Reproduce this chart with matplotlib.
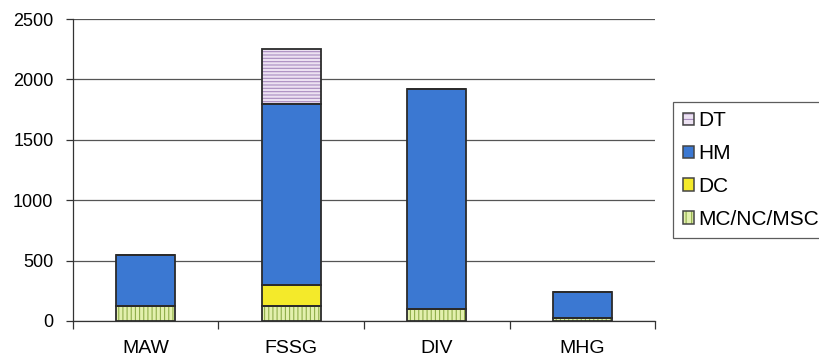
import matplotlib.pyplot as plt
import numpy as np
from matplotlib.legend_handler import HandlerTuple
from matplotlib.patches import Patch

plt.rcParams['font.family'] = ['Liberation Sans', 'DejaVu Sans']
plt.rcParams['hatch.linewidth'] = 0.8

units = ['MAW', 'FSSG', 'DIV', 'MHG']
mc_nc_msc = [120, 120, 100, 25]
dc = [0, 180, 0, 0]
hm = [430, 1500, 1820, 215]
dt = [0, 450, 0, 0]

# (label, values, face colour, hatch, hatch colour)
series = [
    ('MC/NC/MSC', mc_nc_msc, '#e3f0ad', '||||', '#8fae4a'),
    ('DC', dc, '#f4ea2a', None, None),
    ('HM', hm, '#3b78d2', None, None),
    ('DT', dt, '#ece2f2', '-----', '#a98cc0'),
]

fig = plt.figure(figsize=(8.19, 3.62), dpi=100)
ax = fig.add_axes([0.089, 0.1133, 0.711, 0.8342])

x = np.arange(len(units))
width = 0.405
bottom = np.zeros(len(units))
handles = []
for label, vals, face, hatch, hcol in series:
    vals = np.array(vals, dtype=float)
    if hatch:
        ax.bar(x, vals, width, bottom=bottom, color=face, hatch=hatch,
               edgecolor=hcol, linewidth=0, zorder=3)
        fill = Patch(facecolor=face, hatch='|||' if '|' in hatch else '---',
                     edgecolor=hcol, linewidth=0)
    else:
        ax.bar(x, vals, width, bottom=bottom, color=face, linewidth=0, zorder=3)
        fill = Patch(facecolor=face, linewidth=0)
    ax.bar(x, vals, width, bottom=bottom, fill=False, edgecolor='#2b2b2b',
           linewidth=1.3, zorder=4)
    outline = Patch(fill=False, edgecolor='#444444', linewidth=1.1)
    handles.append(((fill, outline), label))
    bottom += vals

ax.set_xlim(-0.5, len(units) - 0.5)
ax.set_ylim(0, 2500)
ax.set_yticks(np.arange(0, 2501, 500))
ax.yaxis.grid(True, color='#555555', linewidth=0.9)
ax.set_axisbelow(True)

ax.set_xticks(x)
ax.set_xticklabels(units)
ax.set_xticks(np.arange(-0.5, len(units), 1), minor=True)
ax.tick_params(axis='x', which='major', length=0, pad=13.5, labelsize=14)
ax.tick_params(axis='x', which='minor', length=6, width=0.9, color='#333333')
ax.tick_params(axis='y', length=5, width=0.9, color='#333333', labelsize=13, pad=9)

for side in ['top', 'right']:
    ax.spines[side].set_visible(False)
for side in ['left', 'bottom']:
    ax.spines[side].set_color('#333333')
    ax.spines[side].set_linewidth(0.9)

hs = [h for h, _ in handles][::-1]
ls = [l for _, l in handles][::-1]
leg = ax.legend(hs, ls, handler_map={tuple: HandlerTuple(ndivide=1)},
                loc='upper left', bbox_to_anchor=(1.031, 0.725),
                fontsize=15, frameon=True, fancybox=False,
                handlelength=0.55, handleheight=0.55, handletextpad=0.2,
                labelspacing=0.66, borderpad=0.45, borderaxespad=0)
leg.get_frame().set_edgecolor('#333333')
leg.get_frame().set_linewidth(0.9)

fig.savefig('out.png', dpi=100)
